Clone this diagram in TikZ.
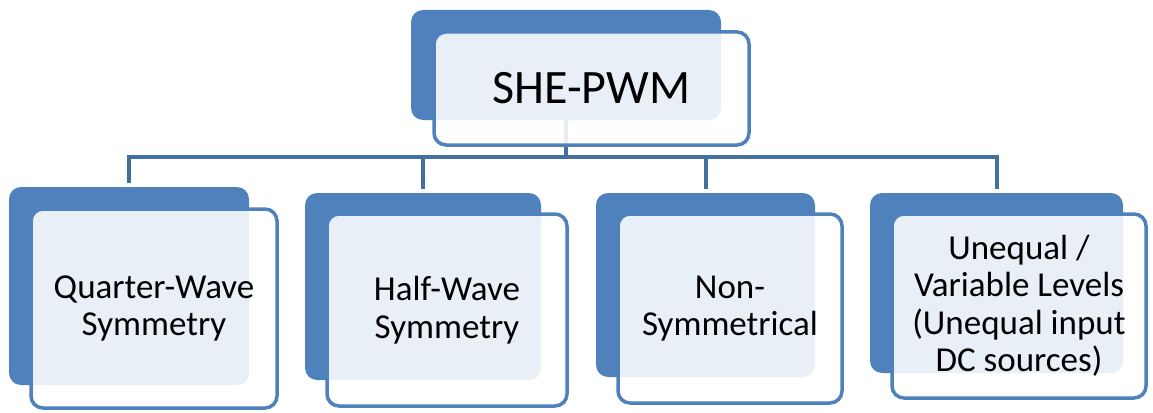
\documentclass[tikz,border=0pt]{standalone}
\usepackage{fontspec}
\setmainfont{Carlito}
\definecolor{boxblue}{HTML}{4F81BD}
\definecolor{lineblue}{HTML}{41719C}
\begin{document}
\begin{tikzpicture}[x=1pt, y=-1pt,
    every node/.style={font=\fontsize{35}{37.5}\selectfont, align=center, inner sep=0pt, outer sep=0pt},
    back/.style={rectangle, fill=boxblue, rounded corners=12pt},
    front/.style={rectangle, draw=boxblue, line width=3.5pt, fill=white, fill opacity=0.88, text opacity=1, rounded corners=12pt},
    conn/.style={draw=lineblue, line width=4pt}
]
\useasboundingbox (0,0) rectangle (1153,412);
% back boxes
\node[back, minimum width=310pt, minimum height=110pt] (sheb) at (566, 65)    {};
\node[back, minimum width=240pt, minimum height=198pt] (qwb)  at (129, 286)   {};
\node[back, minimum width=236pt, minimum height=187pt] (hwb)  at (423, 286.5) {};
\node[back, minimum width=219pt, minimum height=184pt] (nsb)  at (705.5, 285) {};
\node[back, minimum width=253pt, minimum height=180pt] (uvb)  at (996.5, 283) {};
% connectors
\coordinate (bus) at (566, 157);
\draw[conn] (sheb.south) -- (bus);
\foreach \b in {qwb, hwb, nsb, uvb}
    \draw[conn, shorten >=4pt] (bus) -| (\b.north);
% front boxes
\node[front, minimum width=315pt, minimum height=113pt, font=\fontsize{48}{52}\selectfont] (she) at (591.5, 88.5) {SHE-PWM};
\node[front, minimum width=246pt, minimum height=199pt] (qw) at (154, 308.5) {Quarter-Wave\\Symmetry};
\node[front, minimum width=240pt, minimum height=192pt] (hw) at (447, 310)   {Half-Wave\\Symmetry};
\node[front, minimum width=224pt, minimum height=189pt] (ns) at (730, 308.5) {Non-\\Symmetrical};
\node[front, minimum width=254pt, minimum height=184pt] (uv) at (1019, 306)  {Unequal /\\Variable Levels\\(Unequal input\\DC sources)};
\end{tikzpicture}
\end{document}
